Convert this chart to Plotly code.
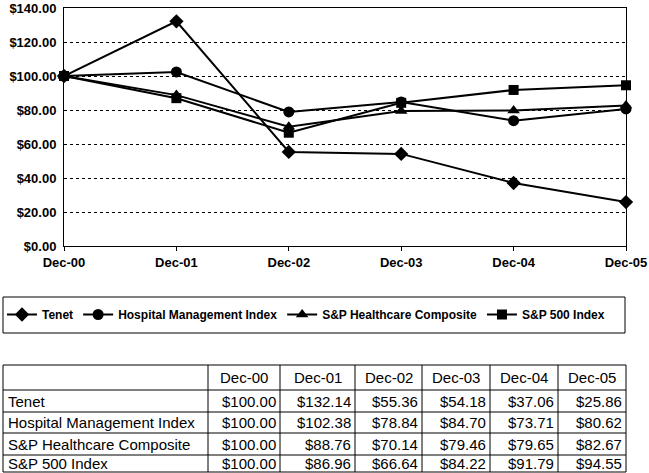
import plotly.graph_objects as go

W, H = 649, 473
periods = ["Dec-00", "Dec-01", "Dec-02", "Dec-03", "Dec-04", "Dec-05"]
series_names = ["Tenet", "Hospital Management Index", "S&P Healthcare Composite", "S&P 500 Index"]
tenet = [100.00, 132.14, 55.36, 54.18, 37.06, 25.86]
hospital = [100.00, 102.38, 78.84, 84.70, 73.71, 80.62]
healthcare = [100.00, 88.76, 70.14, 79.46, 79.65, 82.67]
sp500 = [100.00, 86.96, 66.64, 84.22, 91.79, 94.55]
y_ticks = [0, 20, 40, 60, 80, 100, 120, 140]

all_series = [tenet, hospital, healthcare, sp500]
symbols = ["diamond", "circle", "triangle-up", "square"]
sizes = [11, 11, 11, 10]

BOLD = dict(family="Liberation Sans, Arial", color="black", weight="bold")
REG = dict(family="Liberation Sans, Arial", color="black", size=15)

fig = go.Figure()
for name, vals, sym, sz in zip(series_names, all_series, symbols, sizes):
    fig.add_trace(go.Scatter(
        x=periods, y=vals, name=name, mode="lines+markers",
        line=dict(color="black", width=2),
        marker=dict(symbol=sym, size=sz, color="black"),
        cliponaxis=False,
    ))

def fmt(v):
    return "${:,.2f}".format(v)

# ---- data table (layout geometry in pixels) ----
col_edges = [3, 208, 280, 355, 422, 490, 558, 626]
row_edges = [365, 390, 412, 433, 455, 472]

def px(x):
    return x / W

def py(y):
    return 1 - y / H

shapes = []
annotations = []
for y in row_edges:
    shapes.append(dict(type="line", xref="paper", yref="paper",
                       x0=px(col_edges[0]), x1=px(col_edges[-1]), y0=py(y), y1=py(y),
                       line=dict(color="black", width=1)))
for x in col_edges:
    shapes.append(dict(type="line", xref="paper", yref="paper",
                       x0=px(x), x1=px(x), y0=py(row_edges[0]), y1=py(row_edges[-1]),
                       line=dict(color="black", width=1)))

# header
for j, p in enumerate(periods):
    xc = (col_edges[j + 1] + col_edges[j + 2]) / 2
    yc = (row_edges[0] + row_edges[1]) / 2
    annotations.append(dict(xref="paper", yref="paper", x=px(xc), y=py(yc),
                            text=p, showarrow=False, xanchor="center", yanchor="middle",
                            font=REG))
# body
for i, (name, vals) in enumerate(zip(series_names, all_series)):
    yc = (row_edges[i + 1] + row_edges[i + 2]) / 2
    annotations.append(dict(xref="paper", yref="paper", x=px(col_edges[0] + 3), y=py(yc),
                            text=name, showarrow=False, xanchor="left", yanchor="middle",
                            font=REG))
    for j, v in enumerate(vals):
        annotations.append(dict(xref="paper", yref="paper", x=px(col_edges[j + 2] - 2), y=py(yc),
                                text=fmt(v), showarrow=False, xanchor="right", yanchor="middle",
                                font=REG))

# legend frame
shapes.append(dict(type="rect", xref="paper", yref="paper",
                   x0=px(3), x1=px(625), y0=py(333), y1=py(297),
                   line=dict(color="black", width=1)))

fig.update_layout(
    width=W, height=H,
    margin=dict(l=0, r=0, t=0, b=0),
    paper_bgcolor="white", plot_bgcolor="white",
    font=dict(family="Liberation Sans, Arial", color="black"),
    xaxis=dict(domain=[64 / W, 626 / W], type="category", range=[0, 5],
               automargin=False,
               showline=True, linecolor="black", linewidth=1, mirror=True,
               showgrid=False, ticks="outside", ticklen=4, tickcolor="black",
               tickfont=dict(size=13, **BOLD),
               zeroline=False),
    yaxis=dict(domain=[1 - 246 / H, 1 - 8 / H], range=[0, 140],
               automargin=False,
               tickvals=y_ticks, ticktext=["${:.2f}".format(v) for v in y_ticks],
               showline=True, linecolor="black", linewidth=1, mirror=True,
               showgrid=True, gridcolor="black", griddash="dot", gridwidth=1,
               ticks="outside", ticklen=4, tickcolor="rgba(0,0,0,0)",
               tickfont=dict(size=13, **BOLD),
               zeroline=False),
    showlegend=True,
    legend=dict(orientation="h", x=2 / W, y=1 - 300 / H, xanchor="left", yanchor="top",
                font=dict(size=12, **BOLD),
                bgcolor="rgba(0,0,0,0)", borderwidth=0, itemwidth=30),
    shapes=shapes,
    annotations=annotations,
)

fig.write_html("out.html")
